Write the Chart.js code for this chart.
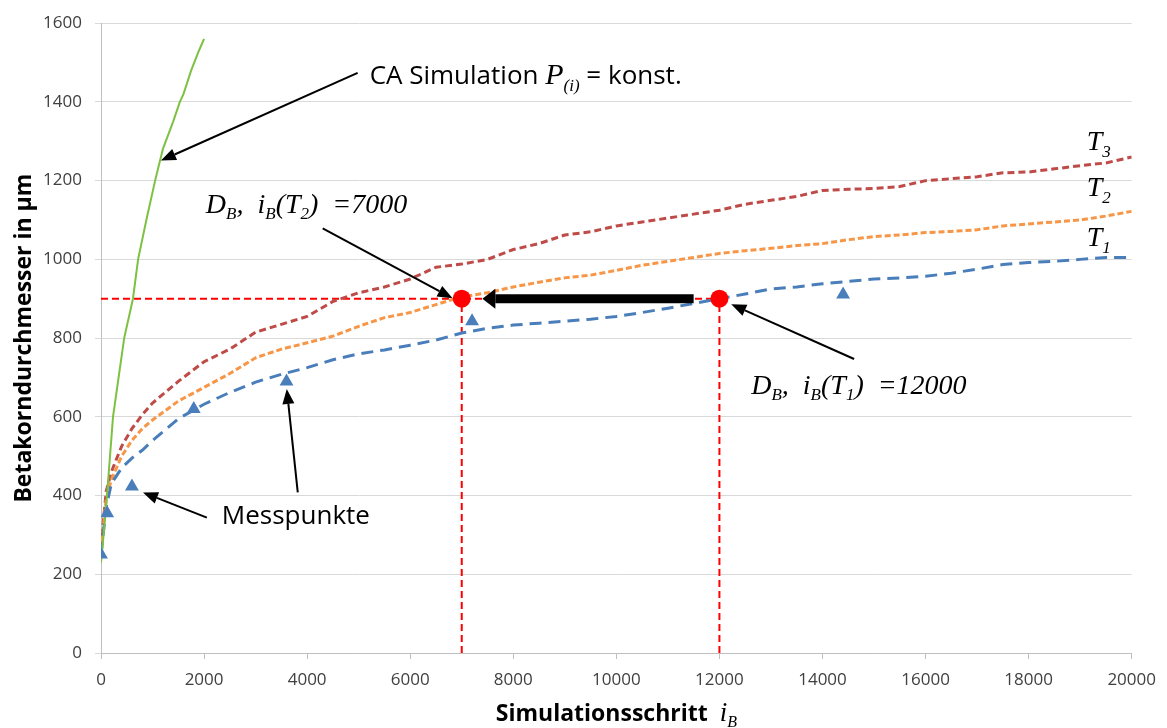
<!DOCTYPE html>
<html>
<head>
<meta charset="utf-8">
<script src="https://cdn.jsdelivr.net/npm/chart.js@4.4.1/dist/chart.umd.min.js"></script>
<style>
  html, body { margin: 0; padding: 0; background: #fff; }
  canvas { display: block; }
</style>
</head>
<body>
<canvas id="chart" width="1167" height="728"></canvas>
<script>
/* ── Data ── */
const xTicks = { min: 0, max: 20000, step: 2000 };
const yTicks = { min: 0, max: 1600, step: 200 };

const simSteps = [0, 100, 200, 400, 600, 800, 1000, 1500, 2000, 2500, 3000, 3500, 4000, 4500, 5000,
  5500, 6000, 6500, 7000, 7500, 8000, 8500, 9000, 9500, 10000, 10500, 11000, 11500, 12000, 12500,
  13000, 13500, 14000, 14500, 15000, 15500, 16000, 16500, 17000, 17500, 18000, 18500, 19000, 19500, 20000];

const t1Values = [250, 370, 430, 470, 495, 515, 540, 595, 632, 662, 688, 708, 725, 745, 760,
  770, 782, 795, 813, 825, 833, 838, 843, 848, 855, 865, 876, 888, 900, 912,
  925, 930, 938, 944, 950, 953, 957, 965, 975, 987, 992, 995, 1000, 1005, 1005];

const t2Values = [260, 390, 440, 500, 540, 570, 592, 640, 675, 710, 750, 772, 788, 805, 830,
  852, 865, 885, 905, 915, 930, 942, 953, 960, 972, 985, 995, 1005, 1015, 1022,
  1028, 1035, 1040, 1050, 1058, 1062, 1068, 1071, 1075, 1085, 1090, 1095, 1100, 1110, 1122];

const t3Values = [270, 410, 460, 525, 570, 605, 635, 690, 740, 772, 815, 835, 855, 893, 915,
  930, 950, 980, 988, 1000, 1025, 1040, 1062, 1070, 1085, 1095, 1105, 1115, 1125, 1140,
  1150, 1160, 1175, 1178, 1180, 1185, 1200, 1205, 1210, 1220, 1222, 1230, 1238, 1245, 1260];

// CA Simulation, P(i) = konst.
const caSteps = [0, 50, 116, 233, 450, 620, 720, 880, 1050, 1200, 1400, 1530, 1600, 1750, 1900, 2000];
const caValues = [230, 300, 400, 600, 800, 900, 1000, 1100, 1200, 1280, 1350, 1400, 1420, 1480, 1530, 1560];

// Messpunkte
const measSteps = [0, 120, 600, 1800, 3600, 7200, 14400];
const measValues = [250, 355, 423, 620, 690, 843, 911];

// D_B = 900 reached at i_B(T2) = 7000 and i_B(T1) = 12000
const targetD = 900;
const hitSteps = [7000, 12000];

/* ── Styles ── */
const SANS = "'Open Sans', 'Liberation Sans', sans-serif";
const SERIF = "'Liberation Serif', 'DejaVu Serif', serif";
const COLORS = {
  t1: '#4a7ebb',
  t2: '#f79646',
  t3: '#be4b48',
  ca: '#7cc142',
  red: '#ff0000',
  grid: '#d9d9d9',
  axis: '#bfbfbf',
  tick: '#404040',
};

function pts(xs, ys) { return xs.map((x, i) => ({ x, y: ys[i] })); }

/* ── Annotations (data coordinates) ── */
const arrows = [
  { from: [4980, 1474], to: [1163, 1251] },
  { from: [4302, 1079], to: [6822, 901] },
  { from: [14613, 747], to: [12229, 886] },
  { from: [2054, 344], to: [814, 408] },
  { from: [3818, 408], to: [3605, 671] },
];
const bigArrow = { from: [11500, targetD], to: [7400, targetD] };

const sub = (t, size, dy) => ({ t, font: `italic ${size}px ${SERIF}`, dy });
const it = (t, size) => ({ t, font: `italic ${size}px ${SERIF}` });
const labels = [
  { at: [5213, 1446], runs: [
    { t: 'CA Simulation ', font: `26px ${SANS}` },
    it('P', 30), sub('(i)', 17, 7),
    { t: ' = konst.', font: `26px ${SANS}` },
  ] },
  { at: [2035, 1117], runs: [
    it('D', 28), sub('B', 17, 6), it(',  i', 28), sub('B', 17, 6),
    it('(T', 28), sub('2', 17, 6), it(')  =7000', 28),
  ] },
  { at: [12617, 658], runs: [
    it('D', 28), sub('B', 17, 6), it(',  i', 28), sub('B', 17, 6),
    it('(T', 28), sub('1', 17, 6), it(')  =12000', 28),
  ] },
  { at: [2345, 327], runs: [{ t: 'Messpunkte', font: `26px ${SANS}` }] },
  { at: [19128, 1279], runs: [it('T', 28), sub('3', 17, 7)] },
  { at: [19128, 1160], runs: [it('T', 28), sub('2', 17, 7)] },
  { at: [19128, 1033], runs: [it('T', 28), sub('1', 17, 7)] },
];

function drawRuns(ctx, x, y, runs) {
  ctx.textAlign = 'left';
  ctx.textBaseline = 'alphabetic';
  for (const r of runs) {
    ctx.font = r.font;
    ctx.fillText(r.t, x, y + (r.dy || 0));
    x += ctx.measureText(r.t).width;
  }
}

function measureRuns(ctx, runs) {
  let w = 0;
  for (const r of runs) { ctx.font = r.font; w += ctx.measureText(r.t).width; }
  return w;
}

function drawArrow(ctx, x1, y1, x2, y2, width, headLen, headHalf) {
  const a = Math.atan2(y2 - y1, x2 - x1);
  const bx = x2 - headLen * Math.cos(a), by = y2 - headLen * Math.sin(a);
  ctx.lineWidth = width;
  ctx.beginPath();
  ctx.moveTo(x1, y1);
  ctx.lineTo(bx, by);
  ctx.stroke();
  ctx.beginPath();
  ctx.moveTo(x2, y2);
  ctx.lineTo(bx - headHalf * Math.sin(a), by + headHalf * Math.cos(a));
  ctx.lineTo(bx + headHalf * Math.sin(a), by - headHalf * Math.cos(a));
  ctx.closePath();
  ctx.fill();
}

const annotationPlugin = {
  id: 'annotations',
  afterDatasetsDraw(chart) {
    const { ctx, scales: { x, y } } = chart;
    ctx.save();
    ctx.fillStyle = '#000';
    ctx.strokeStyle = '#000';
    ctx.lineCap = 'butt';
    for (const a of arrows) {
      drawArrow(ctx, x.getPixelForValue(a.from[0]), y.getPixelForValue(a.from[1]),
        x.getPixelForValue(a.to[0]), y.getPixelForValue(a.to[1]), 2, 15, 6);
    }
    drawArrow(ctx, x.getPixelForValue(bigArrow.from[0]), y.getPixelForValue(bigArrow.from[1]),
      x.getPixelForValue(bigArrow.to[0]), y.getPixelForValue(bigArrow.to[1]), 9, 13, 10);
    for (const l of labels) {
      drawRuns(ctx, x.getPixelForValue(l.at[0]), y.getPixelForValue(l.at[1]), l.runs);
    }
    ctx.restore();
  },
  afterDraw(chart) {
    const { ctx, chartArea } = chart;
    ctx.save();
    ctx.fillStyle = '#000';
    // x axis title, centred on the plot area
    const xt = [
      { t: 'Simulationsschritt  ', font: `bold 23px ${SANS}` },
      it('i', 27), sub('B', 16, 6),
    ];
    const cx = (chartArea.left + chartArea.right) / 2;
    drawRuns(ctx, cx - measureRuns(ctx, xt) / 2, 721, xt);
    // y axis title
    ctx.translate(31, (chartArea.top + chartArea.bottom) / 2);
    ctx.rotate(-Math.PI / 2);
    ctx.font = `bold 23px ${SANS}`;
    ctx.textAlign = 'center';
    ctx.textBaseline = 'alphabetic';
    ctx.fillText('Betakorndurchmesser in µm', 0, 0);
    ctx.restore();
  }
};

/* ── Chart ── */
const lineDs = (label, data, color, dash, width) => ({
  label, data, showLine: true, borderColor: color, borderWidth: width,
  borderDash: dash, pointRadius: 0, fill: false, tension: 0,
});

new Chart(document.getElementById('chart'), {
  type: 'scatter',
  data: {
    datasets: [
      {
        label: 'D_B',
        data: hitSteps.map(s => ({ x: s, y: targetD })),
        pointStyle: 'circle', pointRadius: 9, pointBackgroundColor: COLORS.red,
        pointBorderWidth: 0, showLine: false,
      },
      {
        label: 'Messpunkte',
        data: pts(measSteps, measValues),
        pointStyle: 'triangle', pointRadius: 8, pointBackgroundColor: COLORS.t1,
        pointBorderWidth: 0, showLine: false,
      },
      lineDs('CA Simulation', pts(caSteps, caValues), COLORS.ca, [], 2),
      lineDs('T1', pts(simSteps, t1Values), COLORS.t1, [12, 7], 3),
      lineDs('T2', pts(simSteps, t2Values), COLORS.t2, [6, 3], 3),
      lineDs('T3', pts(simSteps, t3Values), COLORS.t3, [7, 4], 3),
      lineDs('h', [{ x: 0, y: targetD }, { x: hitSteps[1], y: targetD }], COLORS.red, [7, 4], 2),
      lineDs('v1', [{ x: hitSteps[0], y: 0 }, { x: hitSteps[0], y: targetD }], COLORS.red, [7, 4], 2),
      lineDs('v2', [{ x: hitSteps[1], y: 0 }, { x: hitSteps[1], y: targetD }], COLORS.red, [7, 4], 2),
    ]
  },
  options: {
    responsive: false,
    animation: false,
    events: [],
    layout: { padding: { top: 21, right: 34, bottom: 0, left: 0 } },
    plugins: { legend: { display: false }, tooltip: { enabled: false } },
    scales: {
      x: {
        type: 'linear', min: xTicks.min, max: xTicks.max,
        ticks: { stepSize: xTicks.step, callback: v => String(v), color: COLORS.tick,
          font: { family: SANS, size: 17 }, padding: 11, maxRotation: 0 },
        grid: { drawOnChartArea: false, drawTicks: true, tickLength: 6, color: COLORS.axis },
        border: { color: COLORS.axis },
        afterFit: s => { s.height = 75; },
      },
      y: {
        min: yTicks.min, max: yTicks.max,
        ticks: { stepSize: yTicks.step, callback: v => String(v), color: COLORS.tick,
          font: { family: SANS, size: 17 }, padding: 13 },
        grid: { color: COLORS.grid, tickLength: 6 },
        border: { color: COLORS.axis },
        afterFit: s => { s.width = 101; },
      }
    }
  },
  plugins: [annotationPlugin]
});
</script>
</body>
</html>
